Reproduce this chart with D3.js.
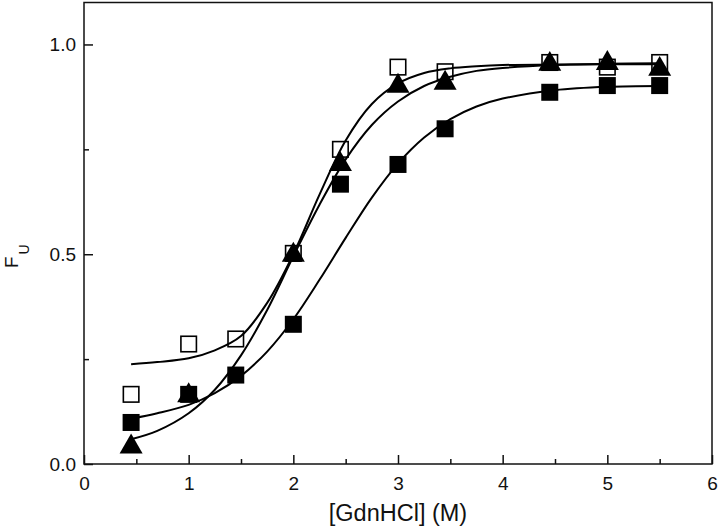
<!DOCTYPE html>
<html>
<head>
<meta charset="utf-8">
<script src="https://cdn.jsdelivr.net/npm/d3@7"></script>
<style>
  html, body { margin: 0; padding: 0; background: #fff; }
  svg { display: block; font-family: "Liberation Sans", Arial, Helvetica, sans-serif; }
</style>
</head>
<body>
<svg id="chart" width="720" height="532"></svg>
<script>
// ---- data ----
const concX = [0.45, 1.0, 1.45, 2.0, 2.45, 3.0, 3.45, 4.45, 5.0, 5.5];
const openSquareY = [0.166, 0.286, 0.298, 0.502, 0.750, 0.946, 0.935, 0.957, 0.946, 0.957];
const filledSquareY = [0.099, 0.166, 0.212, 0.333, 0.667, 0.714, 0.799, 0.886, 0.902, 0.902];
const triangleX = [0.45, 1.0, 2.0, 2.45, 3.0, 3.45, 4.45, 5.0, 5.5];
const triangleY = [0.041, 0.163, 0.498, 0.714, 0.901, 0.908, 0.953, 0.955, 0.941];

// fitted curves
const fitX = [0.45, 0.7, 1.0, 1.25, 1.5, 1.75, 2.0, 2.25, 2.5, 2.75, 3.0, 3.25, 3.5, 3.75, 4.0, 4.5, 5.0, 5.5];
const openFitY = [0.238, 0.243, 0.252, 0.271, 0.305, 0.384, 0.500, 0.642, 0.771, 0.858, 0.907, 0.932, 0.943, 0.948, 0.951, 0.952, 0.953, 0.953];
const triangleFitY = [0.059, 0.079, 0.121, 0.177, 0.259, 0.367, 0.495, 0.618, 0.726, 0.808, 0.864, 0.901, 0.923, 0.937, 0.944, 0.951, 0.954, 0.955];
const filledFitY = [0.108, 0.121, 0.141, 0.169, 0.210, 0.268, 0.345, 0.439, 0.539, 0.635, 0.716, 0.778, 0.822, 0.852, 0.871, 0.891, 0.899, 0.901];

const xMajorTicks = [0, 1, 2, 3, 4, 5, 6];
const xMinorTicks = [0.5, 1.5, 2.5, 3.5, 4.5, 5.5];
const yMajorTicks = [0, 0.5, 1.0];
const yMinorTicks = [0.25, 0.75];
const xTitle = "[GdnHCl] (M)";

// ---- layout ----
const svg = d3.select("#chart");
const mLeft = 84, mRight = 712, mTop = 2.5, mBottom = 464;
const x = d3.scaleLinear().domain([0, 6]).range([mLeft, mRight]);
const y = d3.scaleLinear().domain([0, 1.1]).range([mBottom, mTop]);

// axes
const fmtY = d3.format(".1f");
const gx = svg.append("g").attr("transform", `translate(0,${mBottom})`)
  .call(d3.axisBottom(x).tickValues(xMajorTicks).tickSize(-9).tickPadding(13).tickFormat(d3.format("d")));
const gxm = svg.append("g").attr("transform", `translate(0,${mBottom})`)
  .call(d3.axisBottom(x).tickValues(xMinorTicks).tickSize(-5).tickFormat(""));
const gy = svg.append("g").attr("transform", `translate(${mLeft},0)`)
  .call(d3.axisLeft(y).tickValues(yMajorTicks).tickSize(-9).tickPadding(8).tickFormat(fmtY));
const gym = svg.append("g").attr("transform", `translate(${mLeft},0)`)
  .call(d3.axisLeft(y).tickValues(yMinorTicks).tickSize(-5).tickFormat(""));
[gx, gxm, gy, gym].forEach(g => {
  g.select(".domain").remove();
  g.selectAll("line").attr("stroke", "#111").attr("stroke-width", 1.5);
  g.selectAll("text").attr("font-size", 19).attr("fill", "#111")
    .attr("font-family", "'Liberation Sans', Arial, sans-serif");
});

// frame
svg.append("rect")
  .attr("x", mLeft).attr("y", mTop)
  .attr("width", mRight - mLeft).attr("height", mBottom - mTop)
  .attr("fill", "none").attr("stroke", "#111").attr("stroke-width", 1.5);

// axis titles
svg.append("text")
  .attr("x", (mLeft + mRight) / 2).attr("y", 521)
  .attr("text-anchor", "middle").attr("font-size", 23.5).attr("fill", "#111")
  .text(xTitle);

const yt = svg.append("text")
  .attr("transform", "translate(18,268) rotate(-90)")
  .attr("font-size", 19).attr("fill", "#111");
yt.append("tspan").text("F");
yt.append("tspan").attr("dy", 11).attr("dx", 2).attr("font-size", 14).text("U");

// curves
const line = d3.line().x(d => x(d[0])).y(d => y(d[1])).curve(d3.curveCatmullRom);
[openFitY, triangleFitY, filledFitY].forEach(ys => {
  svg.append("path")
    .datum(fitX.map((v, i) => [v, ys[i]]))
    .attr("d", line)
    .attr("fill", "none").attr("stroke", "#000").attr("stroke-width", 2);
});

// markers
const sq = 17;
svg.append("g").selectAll("rect")
  .data(concX.map((v, i) => [v, openSquareY[i]]))
  .join("rect")
  .attr("x", d => x(d[0]) - (sq - 1.5) / 2).attr("y", d => y(d[1]) - (sq - 1.5) / 2)
  .attr("width", sq - 1.5).attr("height", sq - 1.5)
  .attr("fill", "none").attr("stroke", "#000").attr("stroke-width", 1.6);

const side = 23, triH = side * Math.sqrt(3) / 2;
svg.append("g").selectAll("path")
  .data(triangleX.map((v, i) => [v, triangleY[i]]))
  .join("path")
  .attr("d", d => {
    const cx = x(d[0]), cy = y(d[1]);
    return `M${cx},${cy - 2 * triH / 3}L${cx + side / 2},${cy + triH / 3}L${cx - side / 2},${cy + triH / 3}Z`;
  })
  .attr("fill", "#000");

svg.append("g").selectAll("rect")
  .data(concX.map((v, i) => [v, filledSquareY[i]]))
  .join("rect")
  .attr("x", d => x(d[0]) - sq / 2).attr("y", d => y(d[1]) - sq / 2)
  .attr("width", sq).attr("height", sq)
  .attr("fill", "#000");
</script>
</body>
</html>
